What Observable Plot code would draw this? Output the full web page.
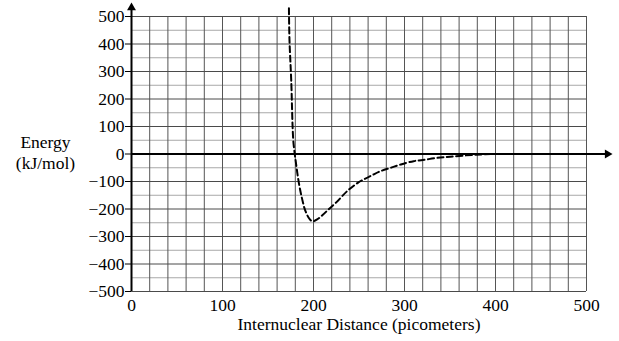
<!DOCTYPE html>
<html>
<head>
<meta charset="utf-8">
<script src="https://cdn.jsdelivr.net/npm/d3@7"></script>
<script src="https://cdn.jsdelivr.net/npm/@observablehq/plot@0.6"></script>
<style>
  html, body { margin: 0; padding: 0; background: white; }
  svg text, svg tspan { font-family: 'Liberation Serif', serif !important; font-size: 17.5px !important; font-variant: normal !important; }
</style>
</head>
<body>
<div id="chart"></div>
<script>
// Curve data
const distance = [173, 173.6, 175.5, 177.7, 179.4, 180.2, 183.9, 187.6, 191.2, 196, 199, 204, 210, 217, 225, 237, 249, 255, 265, 274, 285, 296, 310, 320, 336, 350, 376, 400, 430, 460];
const energy   = [530, 415, 270, 53, 0, -20, -105, -165, -208, -238, -245, -238, -222, -200, -176, -135, -104, -93, -76, -62, -50, -38, -26, -22, -14, -10, -3, 0, 0, 0];

// Axis ticks
const xTicks = [0, 100, 200, 300, 400, 500];
const yTicks = [-500, -400, -300, -200, -100, 0, 100, 200, 300, 400, 500];
const xGrid = d3.range(0, 501, 20);
const yGridMinor = [-450, -350, -250, -150, -50, 50, 150, 250, 350, 450];
const yGridMajor = yTicks;
const axisEnds = {x: 523, y: 532};

const curve = distance.map((d, i) => ({distance: d, energy: energy[i]}));
const serif = "'Liberation Serif', serif";

const chart = Plot.plot({
  width: 619,
  height: 341,
  marginLeft: 131,
  marginRight: 33,
  marginTop: 16,
  marginBottom: 50,
  x: {domain: [0, 500]},
  y: {domain: [-500, 500]},
  style: {fontFamily: serif, fontSize: "17.5px", background: "white", color: "black"},
  marks: [
    Plot.ruleY(yGridMinor, {stroke: "#a8a8a8", strokeWidth: 1}),
    Plot.ruleX(xGrid, {stroke: "#555", strokeWidth: 1}),
    Plot.ruleY(yGridMajor, {stroke: "#4a4a4a", strokeWidth: 1}),
    Plot.ruleY([0], {x1: 0, x2: axisEnds.x, stroke: "black", strokeWidth: 2}),
    Plot.ruleX([0], {y1: -500, y2: axisEnds.y, stroke: "black", strokeWidth: 2}),
    Plot.dot([axisEnds], {x: () => 0, y: d => d.y, symbol: "triangle", fill: "black", stroke: "none", r: 3.3}),
    Plot.dot([axisEnds], {x: d => d.x, y: () => 0, symbol: "triangle", rotate: 90, fill: "black", stroke: "none", r: 3.3}),
    Plot.axisY({ticks: yTicks, tickSize: 6, tickPadding: 1, fontSize: 17.5, fontFamily: serif, label: null}),
    Plot.axisX({ticks: xTicks, tickSize: 0, tickPadding: 7, fontSize: 17.5, fontFamily: serif, label: null}),
    Plot.line(curve, {x: "distance", y: "energy", curve: "catmull-rom", stroke: "black", strokeWidth: 2, strokeDasharray: "6,3.5"}),
    Plot.text(["Energy\n(kJ/mol)"], {text: d => d, frameAnchor: "left", y: () => 0, dx: -86, dy: -2, textAnchor: "middle", lineHeight: 1.15, fontSize: 17.5, fontFamily: serif, fill: "black"}),
    Plot.text(["Internuclear Distance (picometers)"], {text: d => d, frameAnchor: "bottom", dy: 38, fontSize: 17.5, fontFamily: serif, fill: "black"})
  ]
});
document.getElementById("chart").appendChild(chart);
</script>
</body>
</html>
